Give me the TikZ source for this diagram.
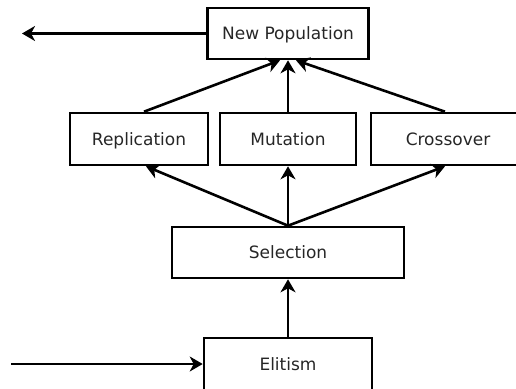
\documentclass[tikz,border=0pt]{standalone}
\usepackage{fontspec}
\setmainfont{DejaVu Sans}
\usetikzlibrary{arrows.meta,calc}
\begin{document}
\begin{tikzpicture}[x=1pt,y=-1pt,
  box/.style={draw=black,line width=2.6pt,rectangle,inner sep=0pt,font=\fontsize{17}{20}\selectfont,text=black!85,text height=13pt,text depth=0.6pt},
  arr/.style={line width=2.6pt,-{Stealth[length=13pt,width=15pt,inset=4pt]}}]
\useasboundingbox (0,0) rectangle (516,388);
\clip (0,0) rectangle (516,388);
\node[box,minimum width=161pt,minimum height=51pt] (np) at (288,33.5) {New Population};
\node[box,minimum width=138pt,minimum height=52pt] (rep) at (139,139) {Replication};
\node[box,minimum width=136pt,minimum height=52pt] (mut) at (288,139) {Mutation};
\node[box,minimum width=154pt,minimum height=52pt] (cro) at (448,139) {Crossover};
\node[box,minimum width=232pt,minimum height=51pt] (sel) at (288,252.5) {Selection};
\node[box,minimum width=168pt,minimum height=52pt] (eli) at (288,364) {Elitism};
\coordinate (out) at (22,33.5);
\coordinate (in) at (11,364);
\draw[arr] (np.west) -- (out);
\draw[arr] (in) -- (eli.west);
\draw[arr] ($(rep.north)+(5,0)$) -- ($(np.south)+(-8,0)$);
\draw[arr] (mut.north) -- (np.south);
\draw[arr] ($(cro.north)+(-3,0)$) -- ($(np.south)+(8,0)$);
\draw[arr] (sel.north) -- ($(rep.south)+(7,0)$);
\draw[arr] (sel.north) -- (mut.south);
\draw[arr] (sel.north) -- ($(cro.south)+(-3,0)$);
\draw[arr] (eli.north) -- (sel.south);
\end{tikzpicture}
\end{document}
